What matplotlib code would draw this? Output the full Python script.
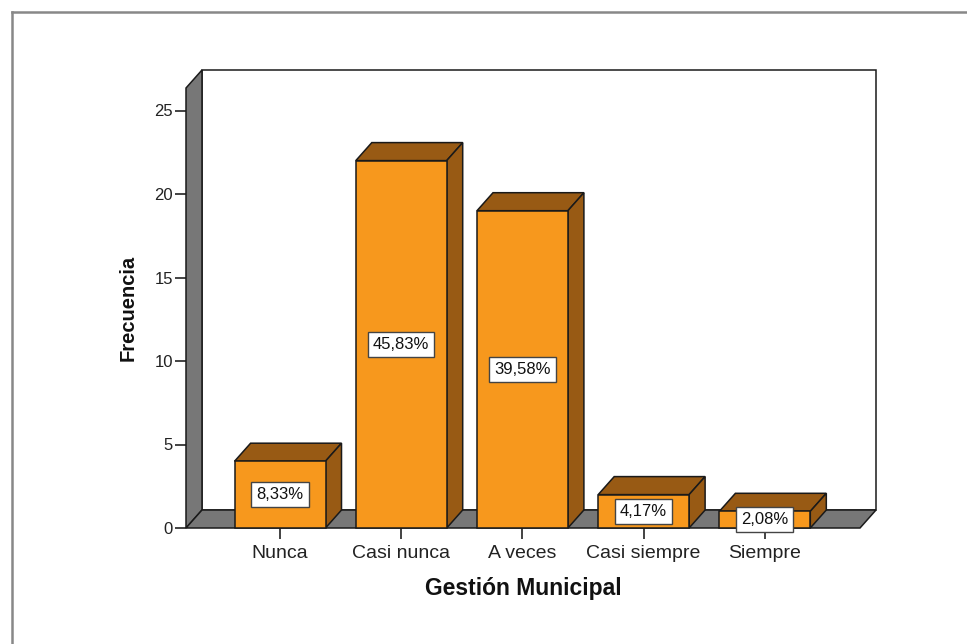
import matplotlib
matplotlib.use("Agg")
import matplotlib.pyplot as plt
from matplotlib.patches import Polygon
from matplotlib.lines import Line2D

categories = ["Nunca", "Casi nunca", "A veces", "Casi siempre", "Siempre"]
frecuencia = [4, 22, 19, 2, 1]
porcentajes = ["8,33%", "45,83%", "39,58%", "4,17%", "2,08%"]
yticks = [0, 5, 10, 15, 20, 25]

plt.rcParams['font.family'] = ['Liberation Sans', 'DejaVu Sans']

W, H = 967, 644
fig = plt.figure(figsize=(W / 100, H / 100), dpi=100)

# axes = front floor/left edge area in pixels
px_left, px_right, px_bottom, px_top = 186, 860, 528, 88
ax = fig.add_axes([px_left / W, 1 - px_bottom / H,
                   (px_right - px_left) / W, (px_bottom - px_top) / H])

xmin, xmax = -0.776, 4.785
ymin, ymax = 0, (px_bottom - px_top) / 16.7
ax.set_xlim(xmin, xmax)
ax.set_ylim(ymin, ymax)

dx = 16 / ((px_right - px_left) / (xmax - xmin))
dy = 18 / 16.7

front = "#F7981D"
dark = "#985A14"
grey = "#777777"
edge = "#1a1a1a"
lw = 1.1

# back wall
ax.add_patch(Polygon([(xmin + dx, dy), (xmax + dx, dy), (xmax + dx, ymax + dy), (xmin + dx, ymax + dy)],
                     closed=True, facecolor="white", edgecolor=edge, lw=lw, clip_on=False, zorder=1))
# left wall
ax.add_patch(Polygon([(xmin, 0), (xmin + dx, dy), (xmin + dx, ymax + dy), (xmin, ymax)],
                     closed=True, facecolor=grey, edgecolor=edge, lw=lw, clip_on=False, zorder=2))
# floor
ax.add_patch(Polygon([(xmin, 0), (xmax, 0), (xmax + dx, dy), (xmin + dx, dy)],
                     closed=True, facecolor=grey, edgecolor=edge, lw=lw, clip_on=False, zorder=2))

x = list(range(len(categories)))
bw = 0.75
ax.bar(x, frecuencia, width=bw, color=front, edgecolor=edge, linewidth=lw, zorder=4, clip_on=False)
for xi, v, lab in zip(x, frecuencia, porcentajes):
    l, r = xi - bw / 2, xi + bw / 2
    ax.add_patch(Polygon([(l, v), (r, v), (r + dx, v + dy), (l + dx, v + dy)],
                         closed=True, facecolor=dark, edgecolor=edge, lw=lw, clip_on=False, zorder=3))
    ax.add_patch(Polygon([(r, 0), (r + dx, dy), (r + dx, v + dy), (r, v)],
                         closed=True, facecolor=dark, edgecolor=edge, lw=lw, clip_on=False, zorder=3))
    ax.text(xi, v / 2, lab, ha="center", va="center", fontsize=12, color="#111111", zorder=6,
            bbox=dict(boxstyle="square,pad=0.3", facecolor="white", edgecolor="#444444", lw=1.0))

for s in ax.spines.values():
    s.set_visible(False)
ax.patch.set_visible(False)
ax.set_xticks(x)
ax.set_xticklabels(categories, fontsize=14, color="#222222")
ax.set_yticks(yticks)
ax.set_yticklabels([str(t) for t in yticks], fontsize=12, color="#222222")
ax.tick_params(axis="both", direction="out", length=8, width=1.2, color="#222222")
ax.tick_params(axis="y", pad=1.5)
ax.tick_params(axis="x", pad=4)

fig.text(523 / W, 1 - 588 / H, "Gestión Municipal", ha="center", va="center",
         fontsize=16.5, fontweight="bold", color="#111111")
fig.text(128 / W, 1 - 308 / H, "Frecuencia", ha="center", va="center", rotation=90,
         fontsize=14.5, fontweight="bold", color="#111111")

# outer frame (grey)
fig.add_artist(Line2D([12 / W, 12 / W], [0, 1 - 12 / H], transform=fig.transFigure, color="#888888", lw=1.8))
fig.add_artist(Line2D([12 / W, 1], [1 - 12 / H, 1 - 12 / H], transform=fig.transFigure, color="#888888", lw=1.8))

fig.savefig("out.png", dpi=100)
